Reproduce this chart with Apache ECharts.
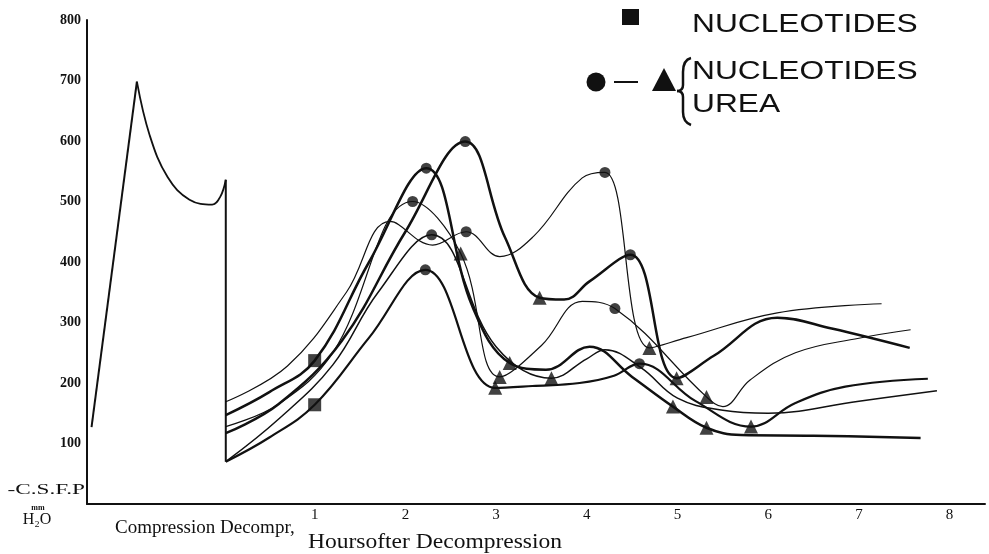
<!DOCTYPE html>
<html>
<head>
<meta charset="utf-8">
<script src="https://cdn.jsdelivr.net/npm/echarts@6/dist/echarts.min.js"></script>
<style>
  html, body { margin: 0; padding: 0; background: #fff; }
  .chart { width: 989px; height: 554px; }
</style>
</head>
<body>
<div class="chart"></div>
<script>
// hours after decompression (x), CSF pressure mm H2O (y)
const hourTicks = [1, 2, 3, 4, 5, 6, 7, 8];

// compression phase (left of the decompression line)
const compressionRise = [[-1.46, 127], [-0.96, 698]];
const compressionFall = [[-0.96, 698], [-0.82, 610], [-0.62, 540], [-0.38, 503], [-0.13, 495], [-0.04, 508], [0.02, 536]];
const decompressionDrop = [[0.02, 536], [0.02, 70]];

// curves after decompression
const curveA = [[0.02, 117], [0.6, 165], [1.3, 270], [2.0, 450], [2.66, 599], [3.1, 440], [3.48, 341], [3.75, 338], [4.03, 368], [4.48, 412], [4.99, 208], [5.4, 245], [6.1, 308], [6.7, 290], [7.56, 258]];
const curveB = [[0.02, 169], [0.7, 228], [1.35, 350], [1.83, 467], [2.3, 428], [2.67, 450], [3.04, 409], [3.41, 442], [3.95, 539], [4.2, 548], [4.69, 258], [5.1, 275], [6.1, 316], [7.25, 331]];
const curveC = [[0.02, 147], [0.5, 185], [1, 237], [1.6, 400], [2.23, 555], [2.74, 326], [3.15, 233], [3.55, 222], [4.03, 260], [4.5, 210], [4.95, 161], [5.32, 126], [5.7, 114], [6.5, 113], [7.68, 109]];
const curveD = [[0.02, 128], [0.6, 165], [1.2, 250], [2.08, 500], [2.61, 414], [3.04, 210], [3.5, 262], [3.95, 335], [4.31, 323], [5.32, 177], [5.5, 161], [5.8, 205], [6.3, 250], [7.0, 274], [7.57, 288]];
const curveE = [[0.02, 70], [0.5, 110], [1, 164], [1.6, 275], [2.22, 387], [2.99, 192], [3.4, 195], [3.92, 200], [4.3, 212], [4.58, 232], [5.2, 170], [5.81, 128], [6.3, 167], [6.85, 194], [7.76, 207]];
const curveF = [[0.02, 70], [0.6, 140], [1.2, 230], [1.7, 350], [2.29, 445], [3.0, 260], [3.61, 208], [4.0, 240], [4.2, 255], [4.6, 225], [5.0, 175], [5.5, 155], [6.0, 150], [7.0, 170], [7.86, 187]];

// marker points
const squarePts = [[1, 237], [1, 164]];
const circlePts = [[2.66, 599], [2.23, 555], [2.08, 500], [2.29, 445], [2.67, 450], [2.22, 387], [4.2, 548], [4.48, 412], [4.31, 323], [4.58, 232]];
const trianglePts = [[2.61, 414], [3.48, 341], [3.15, 233], [3.04, 210], [2.99, 192], [3.61, 208], [4.69, 258], [4.99, 208], [4.95, 161], [5.32, 177], [5.32, 126], [5.81, 128]];

(function () {
    var myChart = echarts.init(document.querySelector('.chart'));
    var serif = 'Liberation Serif';
    var sans = 'Liberation Sans';
    var ink = '#111';

    function curve(data, width, smooth) {
        return {
            type: 'line',
            data: data,
            smooth: smooth,
            symbol: 'none',
            lineStyle: { color: ink, width: width },
            z: 2
        };
    }

    // legend brace "{"
    var braceStyle = { stroke: ink, lineWidth: 2.5, fill: null };
    var brace = [
        { type: 'bezierCurve', shape: { x1: 691, y1: 58, cpx1: 683, cpy1: 60, x2: 683, y2: 72 }, style: braceStyle },
        { type: 'line', shape: { x1: 683, y1: 72, x2: 683, y2: 85 }, style: braceStyle },
        { type: 'bezierCurve', shape: { x1: 683, y1: 85, cpx1: 683, cpy1: 91, x2: 677, y2: 91 }, style: braceStyle },
        { type: 'bezierCurve', shape: { x1: 677, y1: 91, cpx1: 683, cpy1: 91, x2: 683, y2: 97 }, style: braceStyle },
        { type: 'line', shape: { x1: 683, y1: 97, x2: 683, y2: 112 }, style: braceStyle },
        { type: 'bezierCurve', shape: { x1: 683, y1: 112, cpx1: 683, cpy1: 122, x2: 691, y2: 125 }, style: braceStyle }
    ];

    var option = {
        backgroundColor: '#fff',
        animation: false,
        grid: { left: 87, right: 4, top: 20, bottom: 50 },
        xAxis: {
            type: 'value',
            min: -1.51,
            max: 8.39,
            splitLine: { show: false },
            axisTick: { show: false },
            axisLine: { onZero: false, lineStyle: { color: ink, width: 2 } },
            axisLabel: {
                customValues: hourTicks,
                formatter: function (v) { return v >= 1 && Number.isInteger(v) ? String(v) : ''; },
                color: ink,
                fontFamily: serif,
                fontSize: 15,
                margin: 4
            }
        },
        yAxis: {
            type: 'value',
            min: 0,
            max: 800,
            interval: 100,
            splitLine: { show: false },
            axisTick: { show: false },
            axisLine: { show: true, onZero: false, lineStyle: { color: ink, width: 2 } },
            axisLabel: {
                formatter: function (v) { return v === 0 ? '' : String(v); },
                color: ink,
                fontFamily: serif,
                fontWeight: 'bold',
                fontSize: 14,
                margin: 6
            }
        },
        series: [
            curve(compressionRise, 2, false),
            curve(compressionFall, 1.8, 0.4),
            curve(decompressionDrop, 2, false),
            curve(curveA, 2.5, 0.4),
            curve(curveB, 1.2, 0.4),
            curve(curveC, 2.5, 0.4),
            curve(curveD, 1.2, 0.4),
            curve(curveE, 2.2, 0.4),
            curve(curveF, 1.5, 0.4),
            {
                type: 'scatter', data: squarePts, symbol: 'rect', symbolSize: 13,
                itemStyle: { color: ink }, z: 5
            },
            {
                type: 'scatter', data: circlePts, symbol: 'circle', symbolSize: 11,
                itemStyle: { color: ink }, z: 5
            },
            {
                type: 'scatter', data: trianglePts, symbol: 'triangle', symbolSize: 14,
                itemStyle: { color: ink }, z: 5
            }
        ],
        graphic: [
            // y axis caption
            { type: 'text', x: 85, y: 490, scaleX: 1.55, style: { text: '-C.S.F.P', font: '15px ' + serif, fill: ink, align: 'right', verticalAlign: 'middle' } },
            { type: 'text', x: 38, y: 508, style: { text: 'mm', font: 'bold 8px ' + serif, fill: ink, align: 'center', verticalAlign: 'middle' } },
            { type: 'text', x: 37, y: 520, style: { text: 'H₂O', font: '16px ' + serif, fill: ink, align: 'center', verticalAlign: 'middle' } },
            // x axis captions
            { type: 'text', x: 115, y: 528, style: { text: 'Compression Decompr,', font: '19px ' + serif, fill: ink, verticalAlign: 'middle' } },
            { type: 'text', x: 308, y: 542, scaleX: 1.12, style: { text: 'Hoursofter Decompression', font: '21px ' + serif, fill: ink, verticalAlign: 'middle' } },
            // legend
            { type: 'rect', shape: { x: 622, y: 9, width: 17, height: 16 }, style: { fill: ink } },
            { type: 'text', x: 692, y: 25, scaleX: 1.22, style: { text: 'NUCLEOTIDES', font: '26px ' + sans, fill: ink, verticalAlign: 'middle' } },
            { type: 'circle', shape: { cx: 596, cy: 82, r: 9.5 }, style: { fill: ink } },
            { type: 'line', shape: { x1: 614, y1: 82, x2: 638, y2: 82 }, style: { stroke: ink, lineWidth: 2 } },
            { type: 'polygon', shape: { points: [[664, 68], [676, 91], [652, 91]] }, style: { fill: ink } },
            { type: 'group', children: brace },
            { type: 'text', x: 692, y: 72, scaleX: 1.22, style: { text: 'NUCLEOTIDES', font: '26px ' + sans, fill: ink, verticalAlign: 'middle' } },
            { type: 'text', x: 692, y: 105, scaleX: 1.22, style: { text: 'UREA', font: '26px ' + sans, fill: ink, verticalAlign: 'middle' } }
        ]
    };
    myChart.setOption(option);
    window.addEventListener("resize", function () {
        myChart.resize();
    });
})();
</script>
</body>
</html>
